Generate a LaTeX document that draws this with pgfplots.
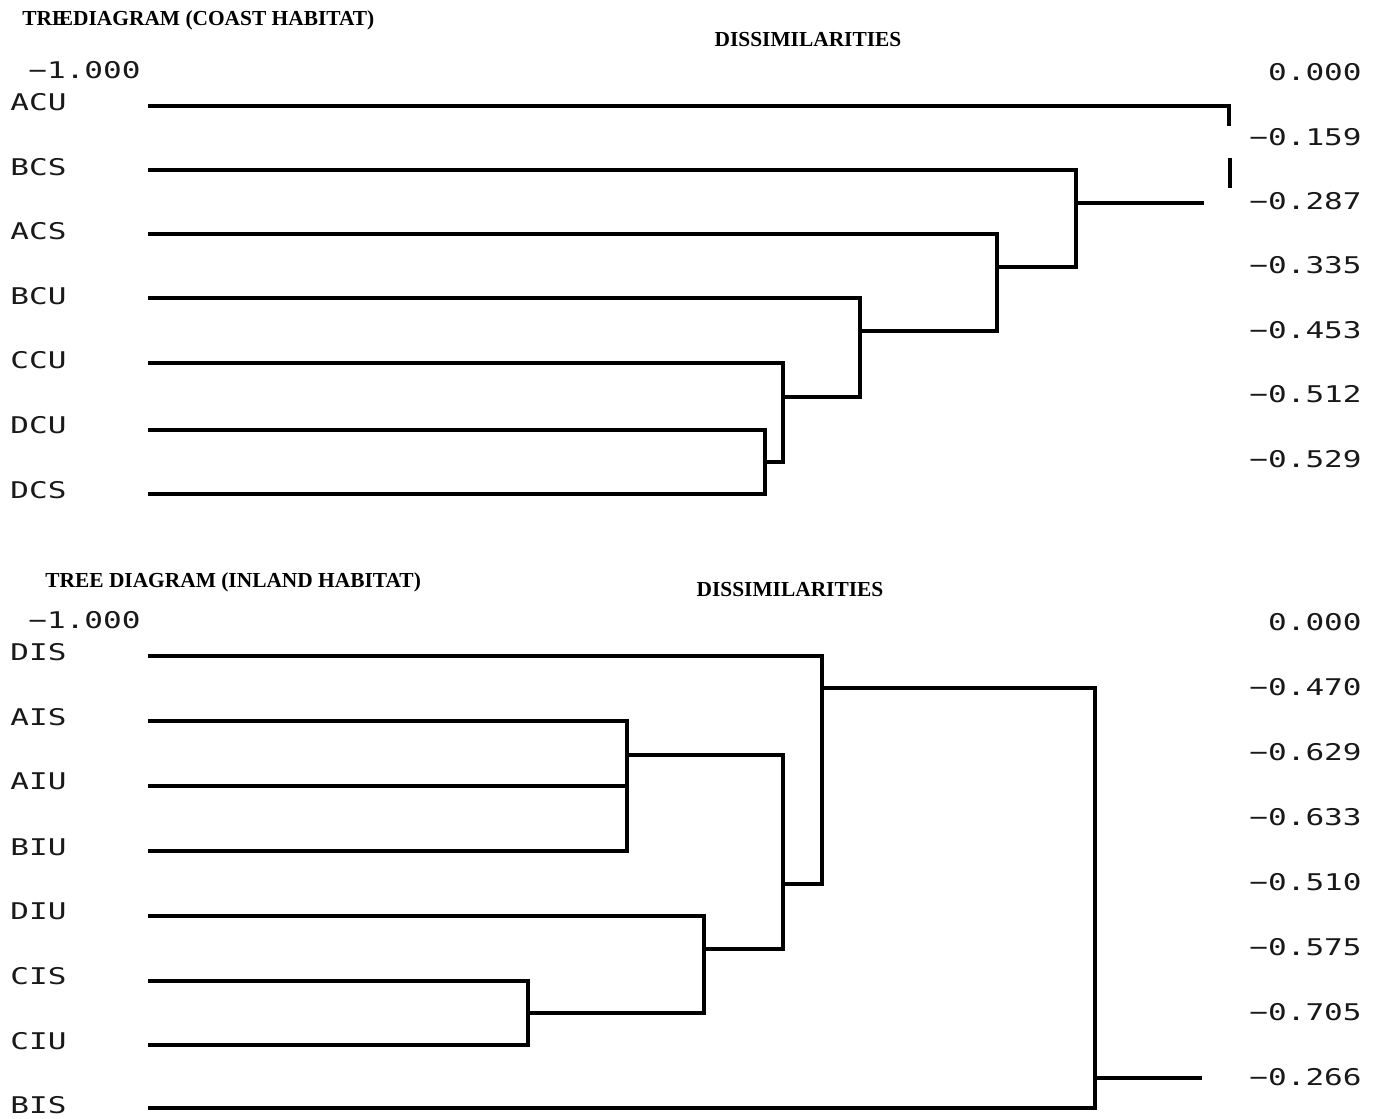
\documentclass[border=0pt]{standalone}
\usepackage{pgfplots}
\pgfplotsset{compat=1.18}
\usepackage{fontspec}
\setmainfont{Liberation Serif}
\newfontfamily\plotfont[FakeStretch=1.35]{DejaVu Sans Mono}
\tikzset{
  lab/.style={font=\plotfont\fontsize{11.5}{12}\selectfont, text=black!90, inner sep=0pt},
  ttl/.style={font=\bfseries\fontsize{10.7}{12}\selectfont, inner sep=0pt},
}
\begin{document}
\begin{tikzpicture}
\begin{axis}[
  width=688pt, height=559.5pt, scale only axis,
  xmin=0, xmax=1376, ymin=0, ymax=1119, y dir=reverse,
  axis lines=none, clip=false,
  cycle list={{black,solid}},
  every axis plot/.append style={black, solid, line width=1.6pt, line join=miter, no markers},
]
\path (rel axis cs:0,0) rectangle (rel axis cs:1,1);
% ---------- Coast habitat ----------
\addplot coordinates {(148,106) (1229,106) (1229,126)};
\addplot coordinates {(1230,158) (1230,188)};
\addplot coordinates {(1076,203) (1204,203)};
\addplot coordinates {(148,170) (1076,170) (1076,267) (997,267)};
\addplot coordinates {(148,234) (997,234) (997,331) (860,331)};
\addplot coordinates {(148,298) (860,298) (860,397) (783,397)};
\addplot coordinates {(148,363) (783,363) (783,462) (765,462)};
\addplot coordinates {(148,430) (765,430) (765,494) (148,494)};
% ---------- Inland habitat ----------
\addplot coordinates {(148,656) (822,656) (822,884) (783,884)};
\addplot coordinates {(822,688) (1095,688) (1095,1108) (148,1108)};
\addplot coordinates {(1095,1078) (1202,1078)};
\addplot coordinates {(148,721) (627,721) (627,851) (148,851)};
\addplot coordinates {(148,786) (627,786)};
\addplot coordinates {(627,755) (783,755) (783,949) (704,949)};
\addplot coordinates {(148,916) (704,916) (704,1013) (528,1013)};
\addplot coordinates {(148,981) (528,981) (528,1045) (148,1045)};
% ---------- Text: coast ----------
\node[ttl, anchor=west] at (axis cs:22,20) {TRE\kern-0.35em EDIAGRAM (COAST HABITAT)};
\node[ttl] at (axis cs:808,40) {DISSIMILARITIES};
\node[lab, anchor=west] at (axis cs:28,70) {−1.000};
\node[lab, anchor=west] at (axis cs:10,102) {ACU};
\node[lab, anchor=west] at (axis cs:10,167) {BCS};
\node[lab, anchor=west] at (axis cs:10,231) {ACS};
\node[lab, anchor=west] at (axis cs:10,296) {BCU};
\node[lab, anchor=west] at (axis cs:10,360) {CCU};
\node[lab, anchor=west] at (axis cs:10,425) {DCU};
\node[lab, anchor=west] at (axis cs:10,490) {DCS};
\node[lab, anchor=east] at (axis cs:1362,72) {0.000};
\node[lab, anchor=east] at (axis cs:1362,137) {−0.159};
\node[lab, anchor=east] at (axis cs:1362,201) {−0.287};
\node[lab, anchor=east] at (axis cs:1362,265) {−0.335};
\node[lab, anchor=east] at (axis cs:1362,330) {−0.453};
\node[lab, anchor=east] at (axis cs:1362,394) {−0.512};
\node[lab, anchor=east] at (axis cs:1362,459) {−0.529};
% ---------- Text: inland ----------
\node[ttl, anchor=west] at (axis cs:45,582) {TREE DIAGRAM (INLAND HABITAT)};
\node[ttl] at (axis cs:790,590) {DISSIMILARITIES};
\node[lab, anchor=west] at (axis cs:28,620) {−1.000};
\node[lab, anchor=west] at (axis cs:10,652) {DIS};
\node[lab, anchor=west] at (axis cs:10,717) {AIS};
\node[lab, anchor=west] at (axis cs:10,781) {AIU};
\node[lab, anchor=west] at (axis cs:10,847) {BIU};
\node[lab, anchor=west] at (axis cs:10,911) {DIU};
\node[lab, anchor=west] at (axis cs:10,976) {CIS};
\node[lab, anchor=west] at (axis cs:10,1041) {CIU};
\node[lab, anchor=west] at (axis cs:10,1105) {BIS};
\node[lab, anchor=east] at (axis cs:1362,622) {0.000};
\node[lab, anchor=east] at (axis cs:1362,687) {−0.470};
\node[lab, anchor=east] at (axis cs:1362,752) {−0.629};
\node[lab, anchor=east] at (axis cs:1362,817) {−0.633};
\node[lab, anchor=east] at (axis cs:1362,882) {−0.510};
\node[lab, anchor=east] at (axis cs:1362,947) {−0.575};
\node[lab, anchor=east] at (axis cs:1362,1012) {−0.705};
\node[lab, anchor=east] at (axis cs:1362,1077) {−0.266};
\end{axis}
\end{tikzpicture}
\end{document}
